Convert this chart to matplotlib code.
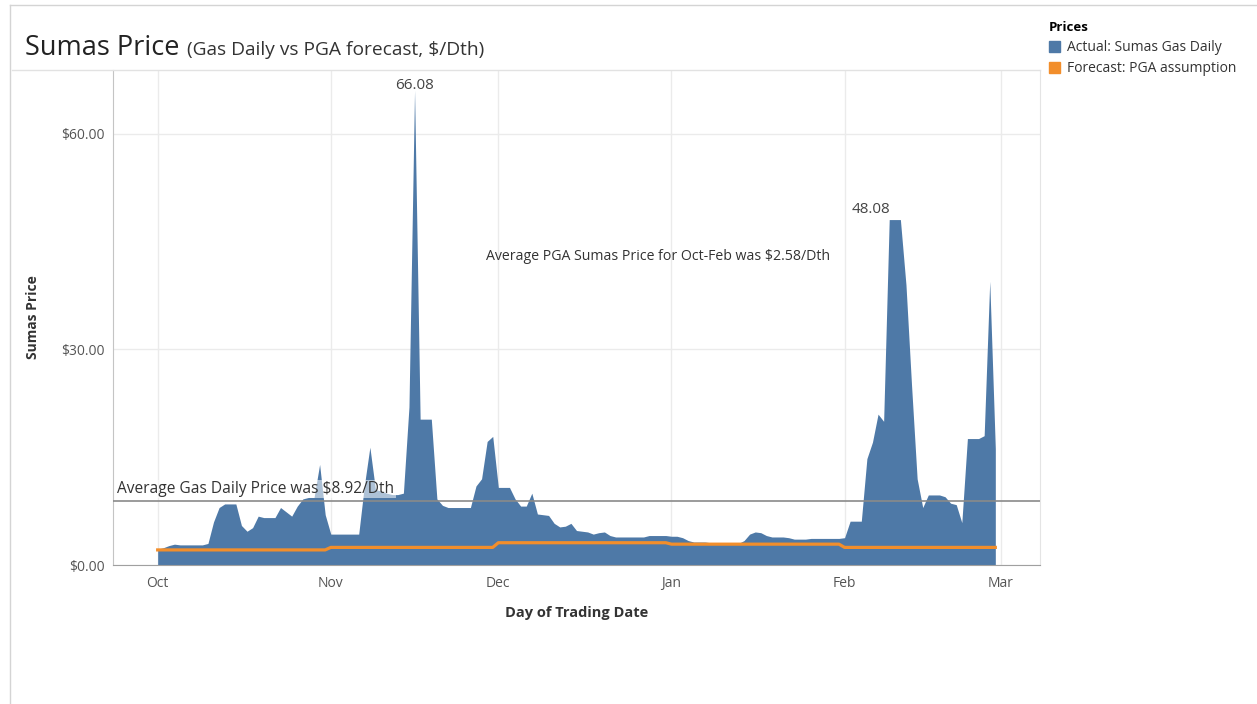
import matplotlib
matplotlib.use('Agg')
from matplotlib import pyplot as plt
from matplotlib.lines import Line2D
from matplotlib.patches import Patch
import matplotlib.dates as mdates
import numpy as np
import pandas as pd

plt.rcParams['font.family'] = ['Open Sans', 'DejaVu Sans']

# daily Sumas Gas Daily price, Oct 1 2018 .. Feb 28 2019 ($/Dth)
actual_oct = [2.2, 2.4, 2.7, 2.9, 2.8, 2.8, 2.8, 2.8, 2.8, 3.0,
              6.0, 8.0, 8.5, 8.5, 8.5, 5.5, 4.7, 5.2, 6.8, 6.6,
              6.6, 6.6, 8.0, 7.4, 6.8, 8.2, 9.2, 9.4, 9.4, 14.0, 7.0]
actual_nov = [4.3, 4.3, 4.3, 4.3, 4.3, 4.3, 11.0, 16.4, 10.5, 10.3,
              10.0, 9.8, 9.8, 10.0, 22.0, 66.08, 20.3, 20.3, 20.3, 9.2,
              8.3, 8.0, 8.0, 8.0, 8.0, 8.0, 11.0, 12.0, 17.2, 17.9]
actual_dec = [10.8, 10.8, 10.8, 9.2, 8.2, 8.2, 10.0, 7.1, 7.0, 6.9,
              5.8, 5.3, 5.4, 5.8, 4.8, 4.7, 4.6, 4.3, 4.5, 4.6,
              4.1, 3.9, 3.9, 3.9, 3.9, 3.9, 3.9, 4.1, 4.1, 4.1, 4.1]
actual_jan = [4.0, 4.0, 3.8, 3.4, 3.2, 3.2, 3.2, 3.1, 3.0, 3.0,
              3.0, 3.0, 3.0, 3.4, 4.3, 4.6, 4.5, 4.1, 3.9, 3.9,
              3.9, 3.8, 3.6, 3.6, 3.6, 3.7, 3.7, 3.7, 3.7, 3.7, 3.7]
actual_feb = [3.8, 6.1, 6.1, 6.1, 14.8, 17.1, 21.0, 20.0, 48.08, 48.08,
              48.08, 39.0, 25.0, 12.0, 8.0, 9.75, 9.75, 9.75, 9.5, 8.6,
              8.4, 5.9, 17.6, 17.6, 17.6, 18.0, 39.5, 16.2]

# PGA assumption per month
pga_months = ['Oct', 'Nov', 'Dec', 'Jan', 'Feb']
pga_values = [2.1, 2.45, 3.1, 2.9, 2.45]
month_days = [31, 30, 31, 31, 28]

avg_gas_daily = 8.92
avg_pga = 2.58

actual = np.array(actual_oct + actual_nov + actual_dec + actual_jan + actual_feb)
forecast = np.repeat(pga_values, month_days)
dates = pd.date_range('2018-10-01', periods=len(actual), freq='D')

blue = '#4e79a7'
orange = '#f28e2b'

fig = plt.figure(figsize=(12.57, 7.04), dpi=100)
W, H = 1257, 704
ax = fig.add_axes([113 / W, 1 - 565 / H, (1040 - 113) / W, (565 - 70) / H])

ax.fill_between(dates, 0, actual, color=blue, linewidth=0, zorder=2)
ax.plot(dates, forecast, color=orange, linewidth=2.3, zorder=3)
ax.axhline(avg_gas_daily, color='#8a8a8a', linewidth=1.2, zorder=4)

ax.set_xlim(pd.Timestamp('2018-09-23'), pd.Timestamp('2019-03-08'))
ax.set_ylim(0, 68.9)

ax.xaxis.set_major_locator(mdates.MonthLocator())
ax.xaxis.set_major_formatter(mdates.DateFormatter('%b'))
ax.set_yticks([0, 30, 60])
ax.set_yticklabels(['$0.00', '$30.00', '$60.00'])
ax.tick_params(length=0, labelsize=10, colors='#555555', pad=6)
ax.tick_params(axis='x', pad=8)
ax.grid(True, color='#ebebeb', linewidth=1, zorder=0)
ax.set_axisbelow(True)

ax.spines['top'].set_visible(False)
ax.spines['left'].set_color('#c4c4c4')
ax.spines['bottom'].set_color('#a0a0a0')
ax.spines['right'].set_color('#e4e4e4')

ax.set_xlabel('Day of Trading Date', fontsize=10.5, fontweight='bold', color='#333333')
ax.xaxis.set_label_coords(0.5, (565 - 606) / 495)
ax.set_ylabel('Sumas Price', fontsize=10, fontweight='bold', color='#333333')
ax.yaxis.set_label_coords((40 - 113) / 927, 0.5)

# peak labels
i_max = int(np.argmax(actual))
ax.annotate(f'{actual[i_max]:.2f}', (dates[i_max], actual[i_max]),
            xytext=(0, -2), textcoords='offset points', ha='center', va='bottom',
            fontsize=11, color='#444444')
i_feb = len(actual_oct + actual_nov + actual_dec + actual_jan) + int(np.argmax(actual_feb))
ax.annotate(f'{actual[i_feb]:.2f}', (dates[i_feb], actual[i_feb]),
            xytext=(1, 2), textcoords='offset points', ha='right', va='bottom',
            fontsize=11, color='#444444')

ax.text((486 - 113) / 927, (565 - 257) / 495,
        f'Average PGA Sumas Price for Oct-Feb was ${avg_pga:.2f}/Dth',
        transform=ax.transAxes, ha='left', va='center', fontsize=10.2, color='#333333')
ax.text((117 - 113) / 927, (565 - 489) / 495,
        f'Average Gas Daily Price was ${avg_gas_daily:.2f}/Dth',
        transform=ax.transAxes, ha='left', va='center', fontsize=11.2, color='#333333',
        zorder=5, bbox=dict(facecolor='white', edgecolor='none', alpha=0.55, pad=1))

# title
fig.text(25 / W, 1 - 55 / H, 'Sumas Price', fontsize=19.5, color='#222222', va='baseline')
fig.text(187 / W, 1 - 55 / H, '(Gas Daily vs PGA forecast, $/Dth)', fontsize=13.8,
         color='#333333', va='baseline')

# frame lines
fig.add_artist(Line2D([10 / W, 1], [1 - 5 / H, 1 - 5 / H], color='#d4d4d4', linewidth=1))
fig.add_artist(Line2D([10 / W, 10 / W], [0, 1 - 5 / H], color='#d4d4d4', linewidth=1))
fig.add_artist(Line2D([12 / W, 1040 / W], [1 - 70 / H, 1 - 70 / H], color='#e2e2e2', linewidth=1))

# legend
handles = [Patch(color=blue), Patch(color=orange)]
leg = fig.legend(handles, ['Actual: Sumas Gas Daily', 'Forecast: PGA assumption'],
                 title='Prices', loc='upper left', bbox_to_anchor=(1049 / W, 1 - 21 / H),
                 frameon=False, fontsize=10, handlelength=0.8, handleheight=0.8,
                 handletextpad=0.5, labelspacing=0.45, borderpad=0, borderaxespad=0,
                 alignment='left', title_fontproperties={'weight': 'bold', 'size': 9.5})
for t in leg.get_texts():
    t.set_color('#333333')

fig.savefig('out.png', dpi=100)
